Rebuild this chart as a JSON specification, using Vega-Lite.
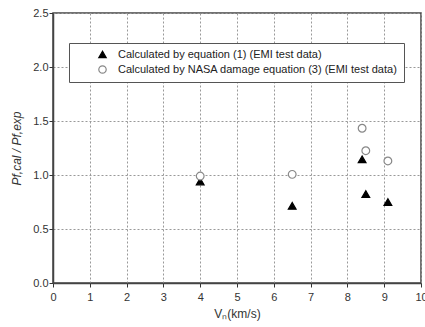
{
  "$schema": "https://vega.github.io/schema/vega-lite/v6.json",
  "width": 368,
  "height": 270,
  "autosize": "none",
  "padding": {"left": 53, "top": 13, "right": 4, "bottom": 44},
  "background": "white",
  "config": {
    "view": {"stroke": "#444", "strokeWidth": 1.5},
    "font": "Liberation Sans"
  },
  "data": {
    "values": [
      {"v": 4.0, "ratio": 0.94, "series": "Calculated by equation (1) (EMI test data)"},
      {"v": 6.5, "ratio": 0.715, "series": "Calculated by equation (1) (EMI test data)"},
      {"v": 8.4, "ratio": 1.145, "series": "Calculated by equation (1) (EMI test data)"},
      {"v": 8.5, "ratio": 0.823, "series": "Calculated by equation (1) (EMI test data)"},
      {"v": 9.1, "ratio": 0.749, "series": "Calculated by equation (1) (EMI test data)"},
      {"v": 4.0, "ratio": 0.99, "series": "Calculated by NASA damage equation (3) (EMI test data)"},
      {"v": 6.5, "ratio": 1.006, "series": "Calculated by NASA damage equation (3) (EMI test data)"},
      {"v": 8.4, "ratio": 1.433, "series": "Calculated by NASA damage equation (3) (EMI test data)"},
      {"v": 8.5, "ratio": 1.225, "series": "Calculated by NASA damage equation (3) (EMI test data)"},
      {"v": 9.1, "ratio": 1.13, "series": "Calculated by NASA damage equation (3) (EMI test data)"}
    ]
  },
  "mark": {"type": "point", "size": 60, "strokeWidth": 1.2, "opacity": 1},
  "encoding": {
    "x": {
      "field": "v",
      "type": "quantitative",
      "scale": {"domain": [0, 10], "nice": false, "zero": false},
      "axis": {
        "values": [0, 1, 2, 3, 4, 5, 6, 7, 8, 9, 10],
        "format": "d",
        "title": "Vₙ(km/s)",
        "grid": true,
        "ticks": true,
        "tickSize": 4,
        "gridDash": [2, 2],
        "gridColor": "#999999",
        "gridWidth": 1,
        "domainColor": "#444",
        "domainWidth": 1.5,
        "tickColor": "#333",
        "tickWidth": 1,
        "labelPadding": 4,
        "labelColor": "#333",
        "labelFontSize": 11,
        "labelFlush": false,
        "labelOverlap": false,
        "titleFontSize": 12,
        "titleColor": "#333",
        "titleFontWeight": "normal",
        "titlePadding": 6
      }
    },
    "y": {
      "field": "ratio",
      "type": "quantitative",
      "scale": {"domain": [0, 2.5], "nice": false, "zero": false},
      "axis": {
        "values": [0, 0.5, 1, 1.5, 2, 2.5],
        "format": ".1f",
        "title": "Pf,cal / Pf,exp",
        "grid": true,
        "ticks": true,
        "tickSize": 4,
        "gridDash": [2, 2],
        "gridColor": "#999999",
        "gridWidth": 1,
        "domainColor": "#444",
        "domainWidth": 1.5,
        "tickColor": "#333",
        "tickWidth": 1,
        "labelPadding": 1,
        "labelColor": "#333",
        "labelFontSize": 11,
        "labelFlush": false,
        "labelOverlap": false,
        "titleFontSize": 12,
        "titleColor": "#333",
        "titleFontWeight": "normal",
        "titleFontStyle": "italic",
        "titlePadding": 9
      }
    },
    "shape": {
      "field": "series",
      "type": "nominal",
      "scale": {
        "domain": ["Calculated by equation (1) (EMI test data)", "Calculated by NASA damage equation (3) (EMI test data)"],
        "range": ["triangle-up", "circle"]
      },
      "legend": {"orient": "none", "legendX": 16, "legendY": 30, "title": null, "strokeColor": "#555", "fillColor": "white", "padding": 6, "symbolOffset": 22, "labelOffset": 10, "labelFontSize": 11, "labelLimit": 500, "labelColor": "#222", "symbolSize": 55, "symbolStrokeWidth": 1.2, "rowPadding": 2}
    },
    "fill": {
      "field": "series",
      "type": "nominal",
      "scale": {
        "domain": ["Calculated by equation (1) (EMI test data)", "Calculated by NASA damage equation (3) (EMI test data)"],
        "range": ["#000000", "#ffffff"]
      },
      "legend": {"orient": "none", "legendX": 16, "legendY": 30, "title": null, "strokeColor": "#555", "fillColor": "white", "padding": 6, "symbolOffset": 22, "labelOffset": 10, "labelFontSize": 11, "labelLimit": 500, "labelColor": "#222", "symbolSize": 55, "symbolStrokeWidth": 1.2, "rowPadding": 2}
    },
    "stroke": {
      "field": "series",
      "type": "nominal",
      "scale": {
        "domain": ["Calculated by equation (1) (EMI test data)", "Calculated by NASA damage equation (3) (EMI test data)"],
        "range": ["#000000", "#888888"]
      },
      "legend": {"orient": "none", "legendX": 16, "legendY": 30, "title": null, "strokeColor": "#555", "fillColor": "white", "padding": 6, "symbolOffset": 22, "labelOffset": 10, "labelFontSize": 11, "labelLimit": 500, "labelColor": "#222", "symbolSize": 55, "symbolStrokeWidth": 1.2, "rowPadding": 2}
    }
  }
}
